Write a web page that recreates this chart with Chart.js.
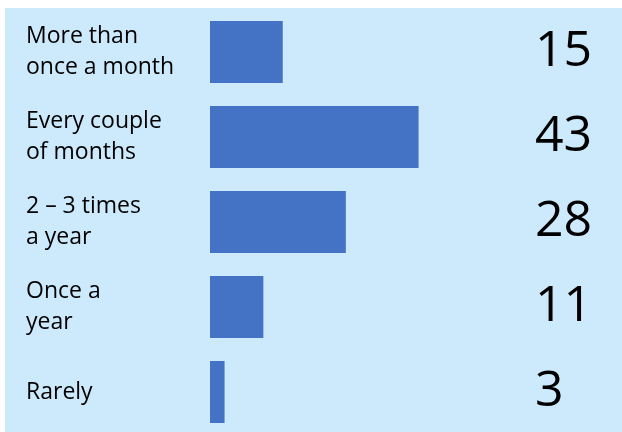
<!DOCTYPE html>
<html>
<head>
<meta charset="utf-8">
<script src="https://cdn.jsdelivr.net/npm/chart.js"></script>
<style>
    html, body { margin: 0; padding: 0; background: #ffffff; width: 622px; height: 432px; overflow: hidden; }
    .panel { position: absolute; left: 5px; top: 8px; width: 617px; height: 427px; background: #cceafc; }
</style>
</head>
<body>
<div class="panel">
    <canvas id="freqChart" width="617" height="427"></canvas>
</div>
<script>
    const categories = [
        ["More than", "once a month"],
        ["Every couple", "of months"],
        ["2 – 3 times", "a year"],
        ["Once a", "year"],
        ["Rarely"]
    ];
    const values = [15, 43, 28, 11, 3];
    const valueLabels = values.map(v => String(v));

    // chart.js pads vertical axes by half a label height; not wanted here
    function fixAxis(w) {
        return s => { s.width = w; s.paddingTop = 0; s.paddingBottom = 0; };
    }

    let ctx = document.getElementById("freqChart").getContext("2d");
    new Chart(ctx, {
        type: "bar",
        data: {
            labels: categories,
            datasets: [{
                data: values,
                backgroundColor: "#4472c4",
                borderWidth: 0,
                barPercentage: 0.73,
                categoryPercentage: 1
            }]
        },
        options: {
            indexAxis: "y",
            responsive: false,
            animation: false,
            layout: { padding: { left: 21, top: 1.5, bottom: 0.5, right: 0 } },
            plugins: { legend: { display: false }, tooltip: { enabled: false } },
            scales: {
                x: { display: false, min: 0, max: 67 },
                y: {
                    position: "left",
                    grid: { display: false, drawTicks: false },
                    border: { display: false },
                    afterFit: fixAxis(184),
                    ticks: {
                        crossAlign: "far",
                        padding: 0,
                        color: "#000000",
                        font: { family: "'Open Sans'", size: 23, lineHeight: 1.35 }
                    }
                },
                yValues: {
                    type: "category",
                    position: "right",
                    labels: valueLabels,
                    offset: true,
                    grid: { display: false, drawTicks: false },
                    border: { display: false },
                    afterFit: fixAxis(87),
                    ticks: {
                        padding: 0,
                        color: "#000000",
                        font: { family: "'Open Sans'", size: 50 }
                    }
                }
            }
        }
    });
</script>
</body>
</html>
